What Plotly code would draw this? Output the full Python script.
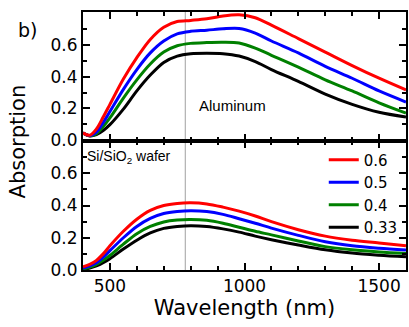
import plotly.graph_objects as go

wavelength = [400, 425, 450, 475, 500, 550, 600, 650, 700, 750, 800, 860, 920, 980, 1040, 1100, 1200, 1300, 1400, 1500, 1600]

labels = ["0.6", "0.5", "0.4", "0.33"]
colors = ["#ff0000", "#0000ff", "#008000", "#000000"]

al_06 = [0.045, 0.03, 0.07, 0.145, 0.225, 0.385, 0.52, 0.635, 0.712, 0.748, 0.755, 0.765, 0.783, 0.79, 0.772, 0.725, 0.64, 0.555, 0.47, 0.39, 0.316]
al_05 = [0.045, 0.028, 0.05, 0.11, 0.18, 0.32, 0.445, 0.55, 0.625, 0.67, 0.686, 0.693, 0.702, 0.704, 0.675, 0.625, 0.55, 0.465, 0.39, 0.31, 0.24]
al_04 = [0.045, 0.027, 0.04, 0.085, 0.14, 0.265, 0.38, 0.48, 0.555, 0.595, 0.61, 0.615, 0.617, 0.612, 0.58, 0.535, 0.46, 0.38, 0.31, 0.235, 0.17]
al_033 = [0.045, 0.026, 0.034, 0.06, 0.097, 0.195, 0.31, 0.41, 0.49, 0.53, 0.545, 0.548, 0.545, 0.53, 0.495, 0.445, 0.37, 0.29, 0.225, 0.175, 0.145]

si_06 = [0.02, 0.035, 0.06, 0.1, 0.15, 0.24, 0.315, 0.37, 0.40, 0.413, 0.417, 0.41, 0.39, 0.365, 0.335, 0.30, 0.25, 0.21, 0.185, 0.168, 0.15]
si_05 = [0.012, 0.025, 0.045, 0.08, 0.12, 0.2, 0.27, 0.32, 0.35, 0.363, 0.368, 0.363, 0.345, 0.318, 0.29, 0.26, 0.215, 0.175, 0.15, 0.135, 0.124]
si_04 = [0.006, 0.018, 0.035, 0.06, 0.09, 0.16, 0.225, 0.27, 0.298, 0.31, 0.313, 0.308, 0.29, 0.265, 0.24, 0.218, 0.18, 0.145, 0.125, 0.112, 0.103]
si_033 = [0.003, 0.012, 0.025, 0.045, 0.07, 0.13, 0.185, 0.23, 0.258, 0.27, 0.275, 0.27, 0.255, 0.235, 0.21, 0.188, 0.155, 0.125, 0.105, 0.092, 0.082]

al_series = [al_06, al_05, al_04, al_033]
si_series = [si_06, si_05, si_04, si_033]

marker_wavelength = 780

FONT = "DejaVu Sans"
LFONT = "Liberation Sans"

fig = go.Figure()

for i in reversed(range(4)):
    fig.add_trace(go.Scatter(x=wavelength, y=al_series[i], mode="lines",
                             line=dict(color=colors[i], width=3, shape="spline", smoothing=0.9),
                             xaxis="x2", yaxis="y2", showlegend=False, hoverinfo="skip"))
for i in reversed(range(4)):
    fig.add_trace(go.Scatter(x=wavelength, y=si_series[i], mode="lines", name=labels[i],
                             line=dict(color=colors[i], width=3, shape="spline", smoothing=0.9),
                             xaxis="x", yaxis="y", showlegend=True))

common_x = dict(range=[400, 1600], showline=True, linewidth=2, linecolor="black",
                ticks="inside", ticklen=7, tickwidth=1.5, tickcolor="black",
                tickvals=[500, 1000, 1500], mirror="ticks", automargin=False,
                minor=dict(ticks="inside", ticklen=4, tickwidth=1.5, tickcolor="black",
                           tickvals=[400, 600, 700, 800, 900, 1100, 1200, 1300, 1400, 1600]),
                showgrid=False, zeroline=False)
common_y = dict(showline=True, linewidth=2, linecolor="black",
                ticks="inside", ticklen=7, tickwidth=1.5, tickcolor="black",
                tickvals=[0, 0.2, 0.4, 0.6], tickformat=".1f", mirror="ticks", automargin=False,
                minor=dict(ticks="inside", ticklen=4, tickwidth=1.5, tickcolor="black",
                           tickvals=[0.1, 0.3, 0.5, 0.7]),
                showgrid=False, zeroline=False,
                tickfont=dict(family=FONT, size=17, color="black"))

fig.update_layout(
    width=409, height=327,
    margin=dict(l=83, r=3, t=12, b=57, autoexpand=False),
    paper_bgcolor="white", plot_bgcolor="white",
    font=dict(family=FONT, color="black"),
    xaxis=dict(**common_x, anchor="y", tickfont=dict(family=FONT, size=17, color="black"),
               title=dict(text="Wavelength (nm)", font=dict(family=FONT, size=21), standoff=3)),
    xaxis2=dict(**common_x, anchor="y2", matches="x", showticklabels=False),
    yaxis=dict(**common_y, domain=[0, 0.5], range=[0, 0.8], anchor="x"),
    yaxis2=dict(**common_y, domain=[0.5, 1], range=[-0.006, 0.808], anchor="x2"),
    legend=dict(x=0.99, y=0.49, xanchor="right", yanchor="top",
                font=dict(family=FONT, size=15), tracegroupgap=0,
                traceorder="reversed", bgcolor="rgba(0,0,0,0)", itemwidth=30),
    showlegend=True,
)

fig.add_shape(type="line", xref="x", yref="paper", x0=marker_wavelength, x1=marker_wavelength,
              y0=0, y1=1, line=dict(color="#a0a0a0", width=1), layer="below")

fig.add_annotation(text="Absorption", xref="paper", yref="paper", x=-0.2, y=0.5,
                   textangle=-90, showarrow=False, font=dict(family=FONT, size=21),
                   xanchor="center", yanchor="middle")
fig.add_annotation(text="b)", xref="paper", yref="paper", x=-0.173, y=0.93,
                   showarrow=False, font=dict(family=FONT, size=19),
                   xanchor="center", yanchor="middle")
fig.add_annotation(text="Aluminum", xref="x2", yref="y2", x=825, y=0.22,
                   showarrow=False, font=dict(family=LFONT, size=15), xanchor="left")
fig.add_annotation(text="Si/SiO<sub>2</sub> wafer", xref="x", yref="y", x=408, y=0.7,
                   showarrow=False, font=dict(family=LFONT, size=14), xanchor="left")

fig.write_html("out.html", config={"displayModeBar": False},
               post_script="document.body.style.margin='0';document.body.style.overflow='hidden';")
